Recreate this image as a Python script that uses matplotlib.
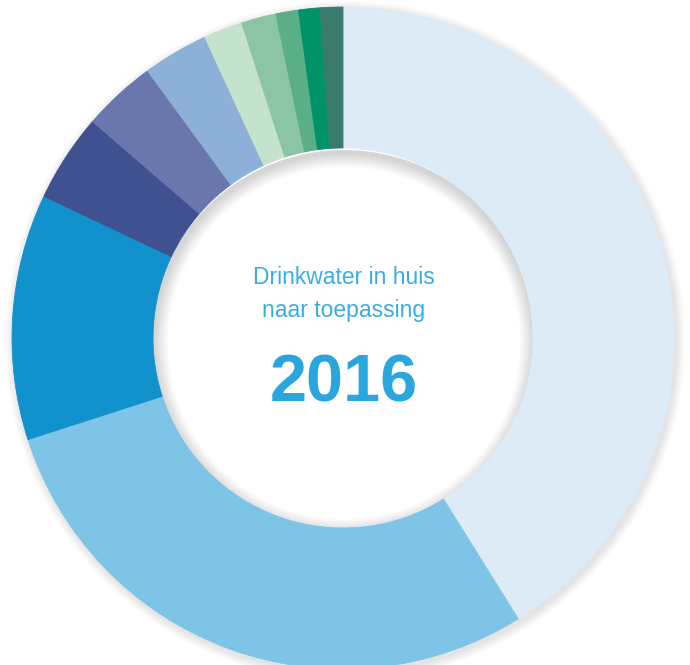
import matplotlib
matplotlib.use("Agg")
import matplotlib.pyplot as plt
from matplotlib.patches import Wedge

# Data: drinking water use in the home by application (share, %), clockwise from top
categories = ["Douche", "Toilet", "Kleding wassen", "Kraan keuken", "Wastafel",
              "Afwassen machine", "Afwassen hand", "Bad", "Eten bereiden",
              "Koffie/thee/water", "Overig"]
values = [41.1, 28.9, 12.0, 4.3, 3.6, 3.2, 1.9, 1.7, 1.1, 1.05, 1.1]
colors = ["#DDEBF6", "#7DC4E6", "#1292CC", "#3F5190", "#6A76AE", "#8DB0D9",
          "#C4E2CC", "#8CC5A6", "#5AAF86", "#00936A", "#3B7B6E"]
title_lines = ["Drinkwater in huis", "naar toepassing"]
year = "2016"

W, H = 690, 665
fig = plt.figure(figsize=(W / 100, H / 100), dpi=100)
ax = fig.add_axes([0, 0, 1, 1])

cx, cy = 343, H - 338
R, r_in = 331, 190

# soft outer shadow
for k in range(9, 0, -1):
    ax.add_patch(Wedge((cx + 2, cy - 3), R + k, 0, 360, width=k + 6,
                       facecolor="#000000", alpha=0.012, linewidth=0, zorder=1))
# soft inner shadow (inside hole, near top)
for k in range(14, 0, -1):
    ax.add_patch(Wedge((cx + 1, cy - 5), r_in + 3, 0, 360, width=k + 3,
                       facecolor="#000000", alpha=0.013, linewidth=0, zorder=1))

wedges, _ = ax.pie(values, colors=colors, startangle=90, counterclock=False,
                   radius=R, center=(cx, cy), frame=True,
                   wedgeprops=dict(width=R - r_in, linewidth=0.6, antialiased=True))
for w, c in zip(wedges, colors):
    w.set_edgecolor(c)
    w.set_zorder(2)

ax.set_xlim(0, W)
ax.set_ylim(0, H)
ax.set_aspect("equal")
ax.axis("off")

for i, line in enumerate(title_lines):
    ax.text(cx + 1, H - (278 + 32 * i), line, ha="center", va="center",
            fontsize=16.5, color="#3AAEE0", family="Liberation Sans", zorder=3)
ax.text(cx + 1, H - 384, year, ha="center", va="center", fontsize=48,
        fontweight="bold", color="#29A6DE", family="Liberation Sans", zorder=3)

fig.savefig("out.png", dpi=100)
